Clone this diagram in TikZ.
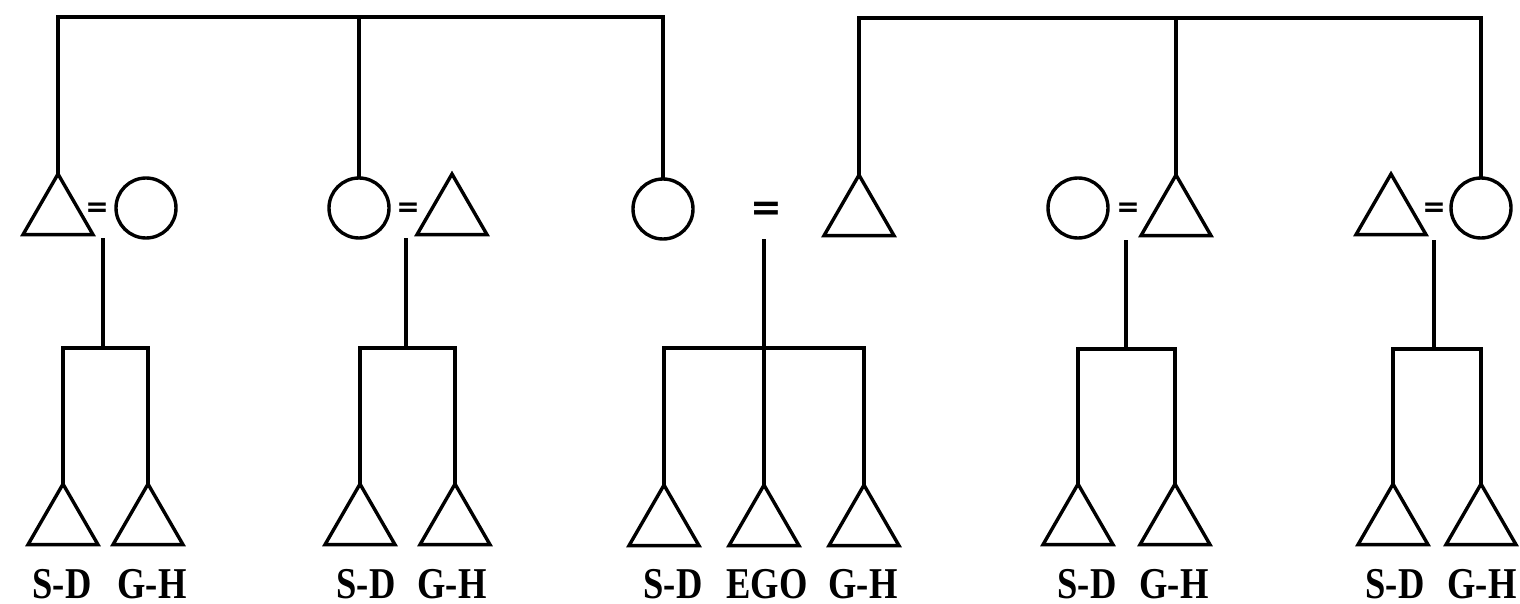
\documentclass[tikz,border=0pt]{standalone}
\usepackage{fontspec}
\setmainfont{Liberation Serif}[BoldFont={Liberation Serif Bold}]
\newfontfamily\labfont{Liberation Serif Bold}
\newfontfamily\eqfont{DejaVu Sans Bold}
\usetikzlibrary{shapes.geometric}
\begin{document}
\begin{tikzpicture}[x=1pt,y=-1pt,
  line width=3.4pt,
  tri/.style={regular polygon, regular polygon sides=3, minimum size=80.8pt,
    inner sep=0pt, outer sep=0pt, draw, anchor=north, line join=miter},
  circ/.style={circle, minimum size=60pt, inner sep=0pt, outer sep=0pt, draw},
  eqs/.style={inner sep=0pt, font=\eqfont\fontsize{28}{28}\selectfont},
  eqbig/.style={inner sep=0pt, font=\eqfont\fontsize{38}{38}\selectfont},
  lab/.style={inner sep=0pt, anchor=base, font=\labfont\fontsize{44}{44}\selectfont},
  conn/.style={line join=miter}]
\useasboundingbox[fill=white] (0,0) rectangle (1520,604);
% first generation
\node[tri]  (t1) at (58,174) {};
\node[eqs]  (e1) at (97,210) {=};
\node[circ] (c1) at (146,208) {};
\node[circ] (c2) at (359,208) {};
\node[eqs]  (e2) at (408,210) {=};
\node[tri]  (t2) at (452,174) {};
\node[circ] (c3) at (663,209) {};
\node[eqbig] (e3) at (766,211) {=};
\node[tri]  (t3) at (859,175) {};
\node[circ] (c4) at (1078,208) {};
\node[eqs]  (e4) at (1128,210) {=};
\node[tri]  (t4) at (1176,175) {};
\node[tri]  (t5) at (1391,174) {};
\node[eqs]  (e5) at (1434,210) {=};
\node[circ] (c5) at (1481,208) {};
% top sibling bars
\coordinate (top1) at (359,17);
\coordinate (top2) at (1176,18);
\draw[conn] (t1.north) |- (top1) -| (c3.north);
\draw[conn] (c2.north) -- (c2.north |- top1);
\draw[conn] (t3.north) |- (top2) -| (c5.north);
\draw[conn] (t4.north) -- (t4.north |- top2);
% children
\node[tri] (s11) at (63,484) {};
\node[tri] (s12) at (148,484) {};
\node[tri] (s21) at (360,484) {};
\node[tri] (s22) at (455,484) {};
\node[tri] (s31) at (664,485) {};
\node[tri] (s32) at (764,485) {};
\node[tri] (s33) at (864,485) {};
\node[tri] (s41) at (1078,484) {};
\node[tri] (s42) at (1175,484) {};
\node[tri] (s51) at (1393,484) {};
\node[tri] (s52) at (1481,484) {};
% descent lines
\coordinate (d1) at (103,238);
\coordinate (d2) at (406,238);
\coordinate (d3) at (764,239);
\coordinate (d4) at (1126,240);
\coordinate (d5) at (1434,240);
\coordinate (j1) at (103,348);
\coordinate (j2) at (406,348);
\coordinate (j3) at (764,348);
\coordinate (j4) at (1126,349);
\coordinate (j5) at (1434,349);
\draw[conn] (d1) -- (j1);
\draw[conn] (d2) -- (j2);
\draw[conn] (d3) -- (s32.north);
\draw[conn] (d4) -- (j4);
\draw[conn] (d5) -- (j5);
\draw[conn] (s11.north) |- (j1) -| (s12.north);
\draw[conn] (s21.north) |- (j2) -| (s22.north);
\draw[conn] (s31.north) |- (j3) -| (s33.north);
\draw[conn] (s41.north) |- (j4) -| (s42.north);
\draw[conn] (s51.north) |- (j5) -| (s52.north);
% labels
\node[lab] (l11) at (62,598) {\scalebox{0.83}[1]{S-D}};
\node[lab] (l12) at (152,598) {\scalebox{0.83}[1]{G-H}};
\node[lab] (l21) at (366,598) {\scalebox{0.83}[1]{S-D}};
\node[lab] (l22) at (452,598) {\scalebox{0.83}[1]{G-H}};
\node[lab] (l31) at (673,598) {\scalebox{0.83}[1]{S-D}};
\node[lab] (l32) at (767,598) {\scalebox{0.83}[1]{EGO}};
\node[lab] (l33) at (863,598) {\scalebox{0.83}[1]{G-H}};
\node[lab] (l41) at (1087,598) {\scalebox{0.83}[1]{S-D}};
\node[lab] (l42) at (1174,598) {\scalebox{0.83}[1]{G-H}};
\node[lab] (l51) at (1395,598) {\scalebox{0.83}[1]{S-D}};
\node[lab] (l52) at (1482,598) {\scalebox{0.83}[1]{G-H}};
\end{tikzpicture}
\end{document}
